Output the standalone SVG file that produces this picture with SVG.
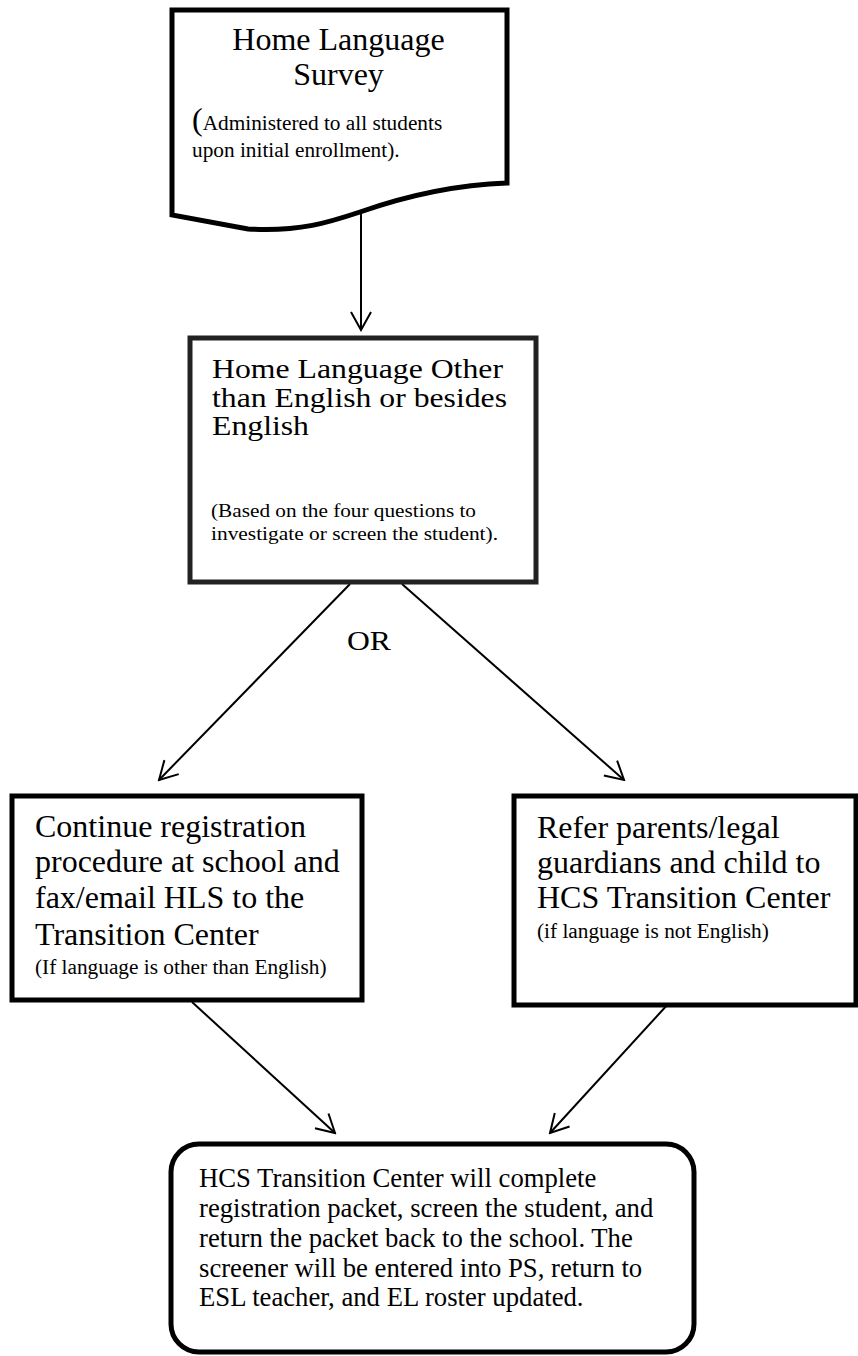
<svg xmlns="http://www.w3.org/2000/svg" width="858" height="1356" viewBox="0 0 858 1356">
<style>
  .t { font-family: "Liberation Serif", "Times New Roman", serif; fill: #000; }
  .big { font-size: 32px; }
  .sm { font-size: 21.3px; }
  .mid { font-size: 26.7px; }
  .b2big { font-size: 27px; }
  .b2sm { font-size: 18px; }
  .edge { fill: none; stroke: #000; stroke-width: 2; }
  .node { fill: #fff; stroke: #000; stroke-width: 5; }
</style>
<defs>
  <marker id="arr" viewBox="-21 -12 23 24" refX="0" refY="0" markerWidth="23" markerHeight="24" markerUnits="userSpaceOnUse" orient="auto">
    <path d="M-18,-10 L0,0 L-18,10" fill="none" stroke="#000" stroke-width="2"/>
  </marker>
</defs>
<rect width="858" height="1356" fill="#fff"/>

<g id="connectors">
  <line class="edge" x1="361" y1="213" x2="361" y2="330" marker-end="url(#arr)"/>
  <line class="edge" x1="350" y1="584" x2="159" y2="780" marker-end="url(#arr)"/>
  <line class="edge" x1="402" y1="584" x2="624" y2="780" marker-end="url(#arr)"/>
  <line class="edge" x1="192" y1="1002" x2="335" y2="1133" marker-end="url(#arr)"/>
  <line class="edge" x1="669" y1="1003" x2="550" y2="1133" marker-end="url(#arr)"/>
  <text class="t b2big" x="347" y="650" textLength="44" lengthAdjust="spacingAndGlyphs">OR</text>
</g>

<g id="survey">
  <path class="node" d="M172,10 H507 V183 C450,185 400,198 360,212 C330,222 300,232 248,229 L172,215 Z"/>
  <text class="t big" x="338.5" y="50" text-anchor="middle">Home Language</text>
  <text class="t big" x="338.5" y="85" text-anchor="middle">Survey</text>
  <text class="t sm" x="192" y="130"><tspan style="font-size:32px">(</tspan>Administered to all students</text>
  <text class="t sm" x="192" y="157">upon initial enrollment).</text>
</g>

<g id="home-language-other">
  <rect x="190" y="338" width="346" height="244" fill="#fff" stroke="#222" stroke-width="5"/>
  <text class="t b2big" x="212" y="378" textLength="291" lengthAdjust="spacingAndGlyphs">Home Language Other</text>
  <text class="t b2big" x="212" y="407" textLength="295" lengthAdjust="spacingAndGlyphs">than English or besides</text>
  <text class="t b2big" x="212" y="435" textLength="97" lengthAdjust="spacingAndGlyphs">English</text>
  <text class="t b2sm" x="211" y="517" textLength="265" lengthAdjust="spacingAndGlyphs">(Based on the four questions to</text>
  <text class="t b2sm" x="211" y="540" textLength="287" lengthAdjust="spacingAndGlyphs">investigate or screen the student).</text>
</g>

<g id="continue-registration">
  <rect class="node" x="12" y="796" width="350" height="204"/>
  <text class="t big" x="35" y="837">Continue registration</text>
  <text class="t big" x="35" y="872">procedure at school and</text>
  <text class="t big" x="35" y="908">fax/email HLS to the</text>
  <text class="t big" x="35" y="945">Transition Center</text>
  <text class="t sm" x="35" y="974">(If language is other than English)</text>
</g>

<g id="refer-parents">
  <rect class="node" x="514" y="796" width="342" height="209"/>
  <text class="t big" x="537" y="838">Refer parents/legal</text>
  <text class="t big" x="537" y="873">guardians and child to</text>
  <text class="t big" x="537" y="908">HCS Transition Center</text>
  <text class="t sm" x="537" y="938">(if language is not English)</text>
</g>

<g id="transition-center">
  <rect class="node" x="171" y="1144" width="523" height="208" rx="28" ry="28"/>
  <text class="t mid" x="199" y="1187">HCS Transition Center will complete</text>
  <text class="t mid" x="199" y="1217">registration packet, screen the student, and</text>
  <text class="t mid" x="199" y="1247">return the packet back to the school.  The</text>
  <text class="t mid" x="199" y="1277">screener will be entered into PS, return to</text>
  <text class="t mid" x="199" y="1306">ESL teacher, and EL roster updated.</text>
</g>
</svg>
